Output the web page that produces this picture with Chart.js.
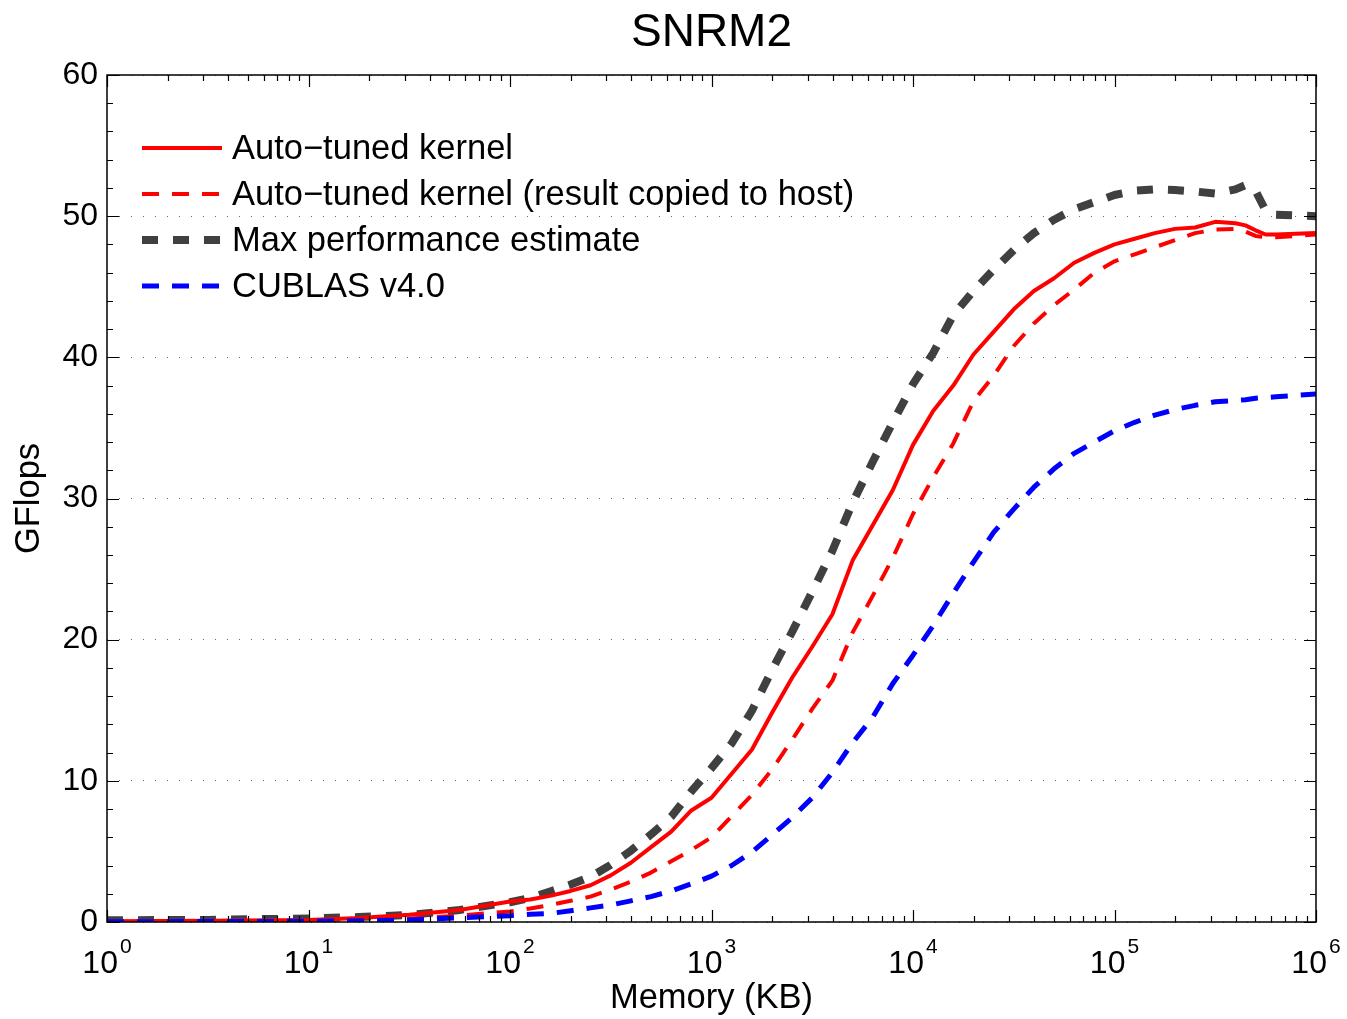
<!DOCTYPE html>
<html>
<head>
<meta charset="utf-8">
<script src="https://cdn.jsdelivr.net/npm/chart.js@4.4.1/dist/chart.umd.min.js"></script>
<style>
html,body{margin:0;padding:0;background:#fff;}
#c{display:block;}
</style>
</head>
<body>
<canvas id="c" width="1347" height="1019"></canvas>
<script>
const chartTitle = 'SNRM2';
const xAxisLabel = 'Memory (KB)';
const yAxisLabel = 'GFlops';
const seriesNames = ['Auto\u2212tuned kernel', 'Auto\u2212tuned kernel (result copied to host)', 'Max performance estimate', 'CUBLAS v4.0'];
const xDecades = [1, 10, 100, 1000, 10000, 100000, 1000000];
const xDecadeExponents = ['0', '1', '2', '3', '4', '5', '6'];
const yTicks = [0, 10, 20, 30, 40, 50, 60];

const memKB = [1, 3.16, 10, 17.8, 31.6, 56.2,
  100, 126, 158, 200, 251, 316, 398, 501, 631, 794,
  1000, 1259, 1585, 1995, 2512, 3162, 3981, 5012, 6310, 7943,
  10000, 12589, 15849, 19953, 25119, 31623, 39811, 50119, 63096, 79433,
  100000, 125893, 158489, 199526, 251189, 316228, 398107, 446684, 501187, 562341, 630957, 794328, 1000000];

const autoTuned = [0.05, 0.08, 0.15, 0.28, 0.52, 0.85,
  1.45, 1.6, 1.85, 2.2, 2.6, 3.3, 4.2, 5.3, 6.4, 7.9,
  8.8, 10.5, 12.2, 14.8, 17.3, 19.5, 21.8, 25.6, 28.1, 30.6,
  33.8, 36.2, 38.0, 40.2, 41.8, 43.4, 44.7, 45.6, 46.7, 47.4,
  48.0, 48.4, 48.8, 49.1, 49.2, 49.6, 49.5, 49.35, 49.0, 48.7, 48.7, 48.75, 48.8];

const autoTunedHost = [0.03, 0.05, 0.1, 0.15, 0.25, 0.45,
  0.75, 0.95, 1.2, 1.5, 1.8, 2.3, 2.85, 3.5, 4.3, 5.1,
  6.0, 7.5, 9.0, 10.8, 12.9, 15.1, 17.1, 20.5, 23.1, 25.8,
  28.9, 31.5, 33.9, 36.9, 38.7, 40.8, 42.4, 43.7, 44.8, 46.0,
  46.8, 47.3, 47.8, 48.3, 48.8, 49.05, 49.1, 48.9, 48.6, 48.5, 48.5, 48.6, 48.7];

const maxEstimate = [0.12, 0.15, 0.25, 0.35, 0.5, 0.85,
  1.4, 1.7, 2.15, 2.65, 3.2, 4.05, 5.05, 6.2, 7.45, 9.25,
  10.9, 12.65, 14.95, 17.85, 20.55, 23.4, 26.3, 29.7, 32.6, 35.4,
  38.1, 40.3, 43.0, 44.7, 46.2, 47.6, 48.8, 49.75, 50.5, 51.0,
  51.5, 51.8, 51.9, 51.85, 51.75, 51.6, 51.9, 52.2, 51.8, 50.4, 50.1, 50.05, 50.0];

const cublas = [0.02, 0.03, 0.05, 0.08, 0.15, 0.3,
  0.45, 0.55, 0.6, 0.8, 1.0, 1.2, 1.5, 1.8, 2.2, 2.7,
  3.25, 4.0, 4.95, 6.15, 7.4, 8.8, 10.6, 12.7, 14.5, 16.9,
  18.9, 21.0, 23.3, 25.5, 27.6, 29.25, 30.8, 32.1, 33.2, 34.0,
  34.8, 35.4, 35.9, 36.3, 36.6, 36.85, 36.95, 37.0, 37.1, 37.15, 37.2, 37.3, 37.4];

const FONT = '"Liberation Sans", Arial, Helvetica, sans-serif';

function pts(vals) { return memKB.map((m, i) => ({x: m, y: vals[i]})); }

const styles = [
  {color: '#ff0000', width: 4, dash: []},
  {color: '#ff0000', width: 4, dash: [17, 13]},
  {color: '#404040', width: 8, dash: [16, 15]},
  {color: '#0000ff', width: 5, dash: [17, 13]}
];
const seriesData = [autoTuned, autoTunedHost, maxEstimate, cublas];
const orders = [2, 1, 3, 0];

const datasets = seriesData.map((d, i) => ({
  label: seriesNames[i],
  data: pts(d),
  borderColor: styles[i].color,
  backgroundColor: styles[i].color,
  borderWidth: styles[i].width,
  borderDash: styles[i].dash,
  borderCapStyle: 'butt',
  borderJoinStyle: 'round',
  pointRadius: 0,
  tension: 0,
  fill: false,
  order: orders[i]
}));

const decor = {
  id: 'decor',
  afterDraw(chart) {
    const ctx = chart.ctx;
    const xs = chart.scales.x, ys = chart.scales.y;
    const ca = chart.chartArea;
    ctx.save();
    // title
    ctx.fillStyle = '#000';
    ctx.font = '46px ' + FONT;
    ctx.textAlign = 'center';
    ctx.textBaseline = 'alphabetic';
    ctx.fillText(chartTitle, (ca.left + ca.right) / 2, 46);

    // ticks
    ctx.strokeStyle = '#000';
    ctx.lineWidth = 1.2;
    ctx.beginPath();
    for (let d = 0; d <= 6; d++) {
      const base = Math.pow(10, d);
      const px = Math.round(xs.getPixelForValue(base)) + 0.5;
      ctx.moveTo(px, ca.bottom); ctx.lineTo(px, ca.bottom - 12);
      ctx.moveTo(px, ca.top); ctx.lineTo(px, ca.top + 12);
      if (d < 6) {
        for (let k = 2; k <= 9; k++) {
          const p = Math.round(xs.getPixelForValue(k * base)) + 0.5;
          ctx.moveTo(p, ca.bottom); ctx.lineTo(p, ca.bottom - 6);
          ctx.moveTo(p, ca.top); ctx.lineTo(p, ca.top + 6);
        }
      }
    }
    for (let v = 0; v <= 60; v += 2) {
      const py = Math.round(ys.getPixelForValue(v)) + 0.5;
      const len = (v % 10 === 0) ? 12 : 6;
      ctx.moveTo(ca.left, py); ctx.lineTo(ca.left + len, py);
      ctx.moveTo(ca.right, py); ctx.lineTo(ca.right - len, py);
    }
    ctx.stroke();

    // box
    ctx.lineWidth = 1.5;
    ctx.strokeRect(ca.left, ca.top, ca.right - ca.left, ca.bottom - ca.top);

    // x tick labels with exponents
    ctx.fillStyle = '#000';
    ctx.textAlign = 'left';
    ctx.textBaseline = 'alphabetic';
    xDecades.forEach((v, i) => {
      const px = xs.getPixelForValue(v);
      ctx.font = '32px ' + FONT;
      const wb = ctx.measureText('10').width;
      ctx.font = '21px ' + FONT;
      const we = ctx.measureText(xDecadeExponents[i]).width;
      const x0 = px - (wb + we + 2) / 2;
      ctx.font = '32px ' + FONT;
      ctx.fillText('10', x0, 973);
      ctx.font = '21px ' + FONT;
      ctx.fillText(xDecadeExponents[i], x0 + wb + 2, 953);
    });

    // legend
    const lx0 = 142, lx1 = 222, tx = 232;
    const rows = [148, 194, 240, 286];
    ctx.font = '34.5px ' + FONT;
    ctx.textBaseline = 'middle';
    ctx.textAlign = 'left';
    seriesNames.forEach((name, i) => {
      const st = styles[i];
      ctx.save();
      ctx.strokeStyle = st.color;
      ctx.lineWidth = st.width;
      ctx.lineCap = 'butt';
      ctx.setLineDash(st.dash);
      ctx.beginPath();
      ctx.moveTo(lx0, rows[i]);
      ctx.lineTo(lx1, rows[i]);
      ctx.stroke();
      ctx.restore();
      ctx.fillStyle = '#000';
      ctx.fillText(name, tx, rows[i] + 1);
    });
    ctx.restore();
  }
};

new Chart(document.getElementById('c'), {
  type: 'line',
  data: {datasets},
  options: {
    responsive: false,
    animation: false,
    devicePixelRatio: 1,
    layout: {padding: {top: 75, right: 31, left: 0, bottom: 0}},
    plugins: {legend: {display: false}, title: {display: false}, tooltip: {enabled: false}},
    scales: {
      x: {
        type: 'logarithmic',
        min: 1, max: 1000000,
        grid: {display: false, drawTicks: false},
        border: {display: false},
        ticks: {display: false},
        title: {display: true, text: xAxisLabel, color: '#000', font: {family: FONT, size: 34.5}, padding: {top: 0, bottom: 0}},
        afterFit(s) { s.height = 97; }
      },
      y: {
        type: 'linear',
        min: 0, max: 60,
        afterBuildTicks(s) { s.ticks = yTicks.map(v => ({value: v})); },
        grid: {display: true, drawTicks: false, color: '#666', lineWidth: 1},
        border: {display: false, dash: [1, 11]},
        ticks: {color: '#000', font: {family: FONT, size: 32}, padding: 9},
        title: {display: true, text: yAxisLabel, color: '#000', font: {family: FONT, size: 34.5}, padding: {top: 9, bottom: 0}},
        afterFit(s) { s.width = 107; }
      }
    }
  },
  plugins: [decor]
});
</script>
</body>
</html>
